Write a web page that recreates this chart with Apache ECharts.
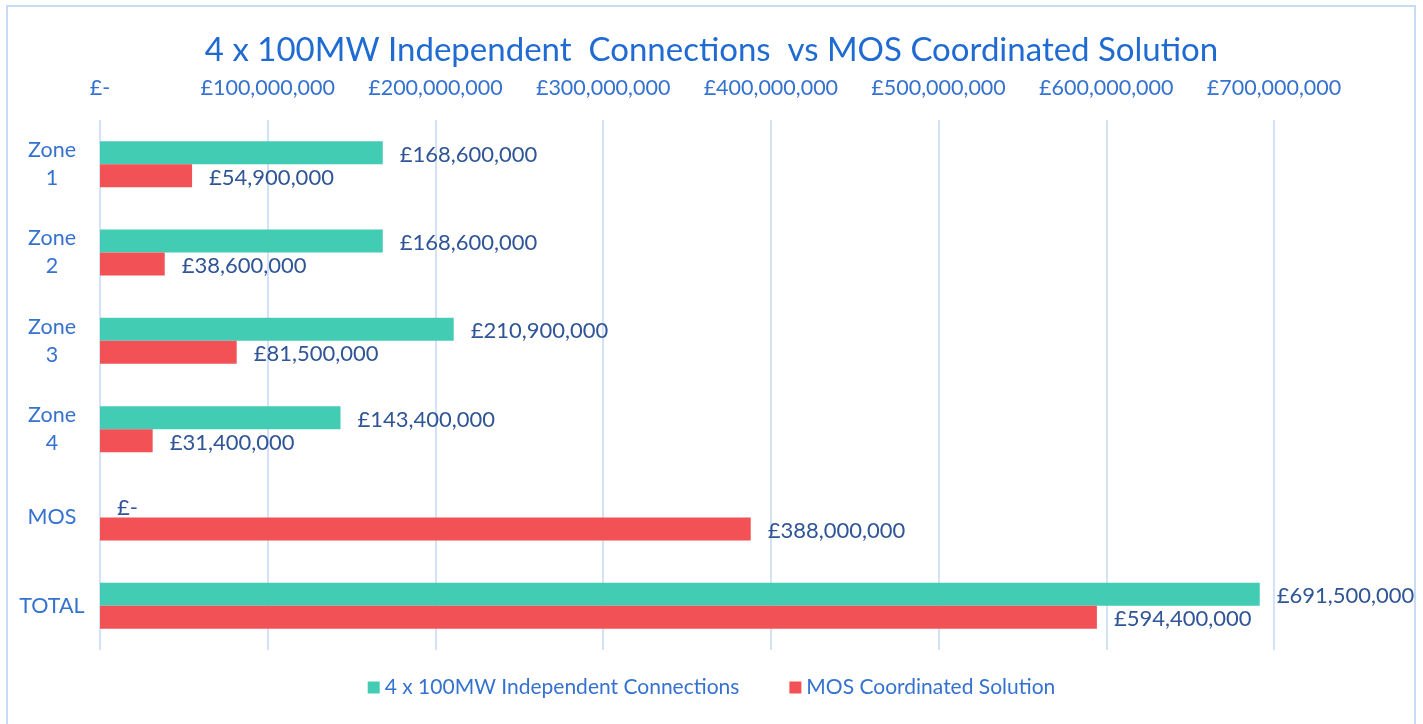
<!DOCTYPE html>
<html>
<head>
<meta charset="utf-8">
<script src="https://cdn.jsdelivr.net/npm/echarts@6/dist/echarts.min.js"></script>
<style>
html,body{margin:0;padding:0;background:#fff;}
#chart{width:1423px;height:724px;}
</style>
</head>
<body>
<div id="chart"></div>
<script>
const categories = ['Zone\n1', 'Zone\n2', 'Zone\n3', 'Zone\n4', 'MOS', 'TOTAL'];
const independentValues = [168600000, 168600000, 210900000, 143400000, 0, 691500000];
const mosValues = [54900000, 38600000, 81500000, 31400000, 388000000, 594400000];
const seriesNames = ['4 x 100MW Independent Connections', 'MOS Coordinated Solution'];
const titleText = '4 x 100MW Independent  Connections  vs MOS Coordinated Solution';

function money(v) {
  return v === 0 ? '£-' : '£' + Number(v).toLocaleString('en-GB');
}

const FONT = 'Lato, "Open Sans", sans-serif';
const labelStyle = {
  show: true,
  position: 'right',
  distance: 17,
  offset: [0, 2],
  color: '#2F5597',
  fontFamily: FONT,
  fontSize: 22,
  formatter: p => money(p.value)
};

const chart = echarts.init(document.getElementById('chart'));
chart.setOption({
  animation: false,
  backgroundColor: '#ffffff',
  graphic: [{
    type: 'rect',
    shape: { x: 7, y: 6, width: 1408, height: 740 },
    style: { fill: 'none', stroke: '#C9DBF3', lineWidth: 2 },
    silent: true
  }],
  title: {
    text: titleText,
    left: 'center',
    top: 29,
    textStyle: { color: '#1F6BD1', fontFamily: FONT, fontSize: 33, fontWeight: 'normal' }
  },
  legend: {
    bottom: 21,
    left: 'center',
    itemWidth: 12,
    itemHeight: 12,
    itemGap: 50,
    icon: 'rect',
    textStyle: { color: '#3572D0', fontFamily: FONT, fontSize: 21 },
    data: seriesNames
  },
  grid: { left: 100, right: 149, top: 120, bottom: 74, containLabel: false },
  xAxis: {
    type: 'value',
    position: 'top',
    min: 0,
    max: 700000000,
    interval: 100000000,
    axisLine: { show: false },
    axisTick: { show: false },
    axisLabel: {
      margin: 21,
      color: '#3572D0',
      fontFamily: FONT,
      fontSize: 21.5,
      formatter: v => money(v)
    },
    splitLine: { show: true, lineStyle: { color: '#C6D9F5', width: 1.5 } }
  },
  yAxis: {
    type: 'category',
    inverse: true,
    data: categories,
    axisLine: { show: false },
    axisTick: { show: false },
    axisLabel: {
      margin: 48,
      align: 'center',
      color: '#3572D0',
      fontFamily: FONT,
      fontSize: 21.5,
      lineHeight: 28
    }
  },
  series: [
    {
      name: seriesNames[0],
      type: 'bar',
      data: independentValues,
      barWidth: 23,
      barGap: '0%',
      itemStyle: { color: '#43CCB4' },
      label: labelStyle
    },
    {
      name: seriesNames[1],
      type: 'bar',
      data: mosValues,
      barWidth: 23,
      barGap: '0%',
      itemStyle: { color: '#F25155' },
      label: labelStyle
    }
  ]
});
</script>
</body>
</html>
